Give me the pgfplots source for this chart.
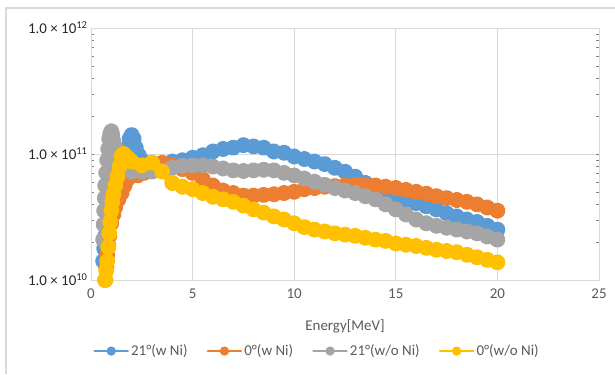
\documentclass[border=0pt]{standalone}
\usepackage{pgfplots}
\pgfplotsset{compat=1.18}
\usepackage{fontspec}
\setmainfont{Carlito}
\definecolor{cBlue}{HTML}{5B9BD5}
\definecolor{cOrange}{HTML}{ED7D31}
\definecolor{cGray}{HTML}{A5A5A5}
\definecolor{cYellow}{HTML}{FFC000}
\definecolor{gridgray}{HTML}{D9D9D9}
\definecolor{txtgray}{HTML}{595959}
\definecolor{framegray}{HTML}{D9D9D9}
\pgfplotsset{
  xlegend/.style={legend image code/.code={%
    \draw[mark repeat=2, mark phase=2, ##1, line width=2.8bp, mark size=3.2bp] plot coordinates {(0bp,0bp)(16.5bp,0bp)(33bp,0bp)};}},
}
\begin{document}
\begin{tikzpicture}[x=1bp,y=1bp]
\useasboundingbox (0,0) rectangle (615,374);
\draw[framegray, line width=1.2bp] (6,0) -- (6,366) -- (615,366);
\begin{axis}[
  at={(91bp,94bp)}, anchor=south west,
  scale only axis, width=508bp, height=252bp,
  xmin=0, xmax=25, ymin=1e10, ymax=1e12,
  ymode=log,
  xtick={0,5,10,15,20,25},
  ytick={1e10,1e11,1e12},
  yticklabels={1.0 × 10\textsuperscript{10},1.0 × 10\textsuperscript{11},1.0 × 10\textsuperscript{12}},
  /pgf/number format/assume math mode=true,
  grid=major,
  major grid style={gridgray, line width=0.9bp},
  axis line style={gridgray, line width=0.9bp},
  major tick length=0pt,
  minor tick num=0,
  tick label style={font=\fontsize{15}{18}\selectfont},
  xticklabel style={txtgray, yshift=-5bp},
  yticklabel style={black!85},
  xlabel={Energy[MeV]},
  xlabel style={at={(axis description cs:0.5,-0.183)}, anchor=center, txtgray, font=\fontsize{15}{18}\selectfont},
  clip=false,
  legend columns=4,
  legend style={at={(0.445,-0.282)}, anchor=center, draw=none, fill=none,
    font=\fontsize{15}{18}\selectfont, text=txtgray,
    /tikz/every even column/.append style={column sep=17bp}},
  every axis plot/.append style={line width=7.6bp, mark=*, mark size=4.3bp, line join=round, line cap=round, xlegend},
]
\addplot[cBlue, mark options={fill=cBlue, draw=cBlue}] coordinates {
(0.6,1.413e10)(0.65,1.778e10)(0.7,2.239e10)(0.75,2.818e10)(0.8,3.548e10)(0.85,4.217e10)(0.9,5.012e10)(1.0,6.310e10)(1.2,7.413e10)(1.5,7.943e10)(1.7,9.550e10)(1.8,1.122e11)(1.9,1.318e11)(2.0,1.413e11)(2.1,1.318e11)(2.2,1.122e11)(2.35,9.772e10)(2.5,8.913e10)
(3.0,8.511e10)(3.5,8.318e10)(4.0,8.710e10)(4.5,8.913e10)(5.0,9.333e10)(5.5,9.772e10)(6.0,1.047e11)(6.5,1.096e11)(7.0,1.122e11)(7.5,1.175e11)
(8.0,1.148e11)(8.5,1.122e11)(9.0,1.047e11)(9.5,1.023e11)(10,9.550e10)(10.5,9.120e10)(11,8.710e10)(11.5,8.318e10)(12,7.762e10)(12.5,7.244e10)
(13,6.607e10)(13.5,5.888e10)(14,5.370e10)(14.5,4.898e10)(15,4.571e10)(15.5,4.315e10)(16,4.074e10)(16.5,3.846e10)(17,3.631e10)(17.5,3.388e10)
(18,3.199e10)(18.5,3.020e10)(19,2.884e10)(19.5,2.692e10)(20,2.512e10)};
\addlegendentry{21°(w Ni)}
\addplot[cOrange, mark options={fill=cOrange, draw=cOrange}] coordinates {
(0.7,1.0e10)(0.75,1.259e10)(0.8,1.585e10)(0.85,1.884e10)(0.9,2.239e10)(1.0,2.818e10)(1.1,3.311e10)(1.2,3.802e10)(1.35,4.365e10)(1.5,4.898e10)(1.65,5.623e10)(1.8,6.310e10)(2.0,7.413e10)(2.3,6.761e10)(2.6,7.079e10)
(3.0,7.943e10)(3.5,8.511e10)(4.0,8.128e10)(4.5,7.586e10)(5.0,7.079e10)(5.5,6.310e10)(6.0,5.623e10)(6.5,5.129e10)(7.0,4.898e10)(7.5,4.677e10)
(8.0,4.677e10)(8.5,4.732e10)(9.0,4.786e10)(9.5,4.898e10)(10,5.012e10)(10.5,5.248e10)(11,5.370e10)(11.5,5.495e10)(12,5.559e10)(12.5,5.623e10)
(13,5.689e10)(13.5,5.689e10)(14,5.623e10)(14.5,5.495e10)(15,5.370e10)(15.5,5.188e10)(16,5.012e10)(16.5,4.842e10)(17,4.624e10)(17.5,4.467e10)
(18,4.315e10)(18.5,4.169e10)(19,3.981e10)(19.5,3.758e10)(20,3.548e10)};
\addlegendentry{0°(w Ni)}
\addplot[cGray, mark options={fill=cGray, draw=cGray}] coordinates {
(0.6,2.089e10)(0.62,2.754e10)(0.65,3.548e10)(0.68,4.467e10)(0.7,5.623e10)(0.75,7.079e10)(0.8,8.913e10)(0.85,1.096e11)(0.9,1.318e11)(0.95,1.445e11)(1.0,1.514e11)(1.05,1.413e11)(1.1,1.259e11)(1.2,1.122e11)(1.3,1.0e11)(1.4,9.120e10)(1.5,8.318e10)(1.75,7.586e10)(2.0,7.244e10)
(2.5,7.244e10)(3.0,7.244e10)(3.5,7.413e10)(4.0,7.762e10)(4.5,8.035e10)(5.0,8.128e10)(5.5,8.128e10)(6.0,7.943e10)(6.5,7.674e10)(7.0,7.413e10)
(7.5,7.328e10)(8.0,7.413e10)(8.5,7.499e10)(9.0,7.413e10)(9.5,7.079e10)(10,6.761e10)(10.5,6.383e10)(11,6.026e10)(11.5,5.689e10)(12,5.370e10)
(12.5,5.129e10)(13,4.898e10)(13.5,4.624e10)(14,4.365e10)(14.5,3.981e10)(15,3.631e10)(15.5,3.311e10)(16,3.020e10)(16.5,2.818e10)(17,2.692e10)
(17.5,2.600e10)(18,2.512e10)(18.5,2.427e10)(19,2.344e10)(19.5,2.213e10)(20,2.089e10)};
\addlegendentry{21°(w/o Ni)}
\addplot[cYellow, mark options={fill=cYellow, draw=cYellow}] coordinates {
(0.7,1.0e10)(0.75,1.189e10)(0.8,1.413e10)(0.85,1.820e10)(0.9,2.344e10)(0.95,2.884e10)(1.0,3.548e10)(1.05,4.169e10)(1.1,4.786e10)(1.2,5.623e10)(1.3,6.607e10)(1.4,7.943e10)(1.5,9.550e10)(1.6,1.0e11)(1.8,9.333e10)(2.0,8.710e10)
(2.5,8.128e10)(3.0,8.511e10)(3.5,7.244e10)(4.0,5.888e10)(4.5,5.495e10)(5.0,5.248e10)(5.5,4.898e10)(6.0,4.571e10)(6.5,4.365e10)(7.0,4.169e10)
(7.5,3.890e10)(8.0,3.631e10)(8.5,3.428e10)(9.0,3.199e10)(9.5,3.020e10)(10,2.818e10)(10.5,2.630e10)(11,2.512e10)(11.5,2.427e10)(12,2.344e10)
(12.5,2.291e10)(13,2.239e10)(13.5,2.163e10)(14,2.089e10)(14.5,2.042e10)(15,1.950e10)(15.5,1.905e10)(16,1.862e10)(16.5,1.799e10)(17,1.738e10)
(17.5,1.698e10)(18,1.660e10)(18.5,1.585e10)(19,1.514e10)(19.5,1.445e10)(20,1.380e10)};
\addlegendentry{0°(w/o Ni)}
\end{axis}
\end{tikzpicture}
\end{document}
